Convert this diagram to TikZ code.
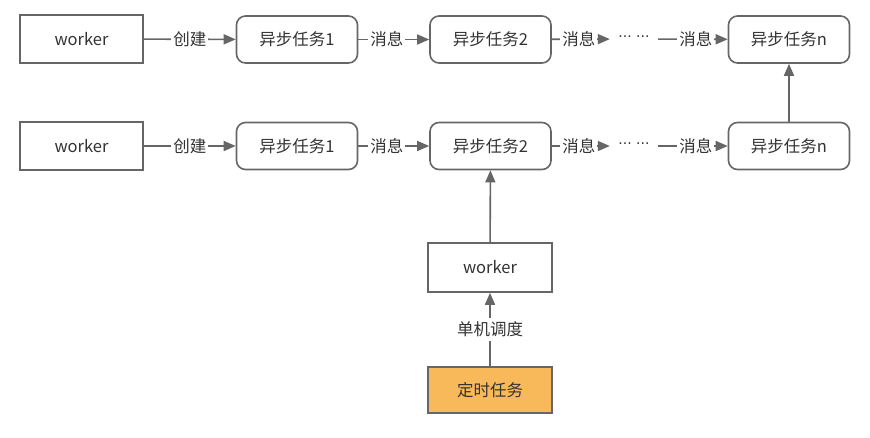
\documentclass[tikz,border=0pt]{standalone}
\usepackage{fontspec}
\setmainfont{Noto Sans CJK SC}
\newfontfamily\dejavu{DejaVu Sans}
\usetikzlibrary{arrows.meta}
\definecolor{edgegray}{HTML}{666666}
\definecolor{txt}{HTML}{333333}
\definecolor{timerfill}{HTML}{F7B95A}
\begin{document}
\begin{tikzpicture}[x=1pt,y=-1pt,
  every node/.style={font=\fontsize{16.5}{19}\selectfont, text=txt},
  sqbox/.style={draw=edgegray, line width=1.6pt, fill=white, minimum width=123pt, minimum height=48pt, inner sep=0pt},
  rbox/.style={draw=edgegray, line width=1.6pt, fill=white, rounded corners=9pt, minimum width=121pt, minimum height=47pt, inner sep=0pt},
  conn/.style={draw=edgegray, line width=1.6pt, -{Triangle[length=12pt,width=10pt]}},
  lbl/.style={fill=white, inner sep=2pt},
  dots/.style={inner sep=0pt, minimum width=48pt, minimum height=12pt, font=\dejavu\fontsize{14}{16}\selectfont}
]
\useasboundingbox (0,0) rectangle (870,437);
\fill[white] (0,0) rectangle (870,437);

% row 1
\node[sqbox] (w1) at (81.5,39) {worker};
\node[rbox] (a1) at (297,39.5) {异步任务1};
\node[rbox] (b1) at (490.5,39.5) {异步任务2};
\node[dots] (d1) at (634,39) {··· ···};
\node[rbox] (n1) at (789,39.5) {异步任务n};

% row 2
\node[sqbox] (w2) at (81.5,146) {worker};
\node[rbox] (a2) at (297,146) {异步任务1};
\node[rbox] (b2) at (490.5,146) {异步任务2};
\node[dots] (d2) at (634,146) {··· ···};
\node[rbox] (n2) at (789,146) {异步任务n};

% bottom
\node[sqbox, minimum width=124pt, minimum height=49pt] (w3) at (490,267.5) {worker};
\node[sqbox, fill=timerfill, minimum width=124pt, minimum height=46pt] (t) at (490,390) {定时任务};

% connectors row 1
\draw[conn] (w1) -- node[lbl] {创建} (a1);
\draw[conn] (a1) -- node[lbl, xshift=-7pt] {消息} (b1);
\draw[conn] (b1) -- node[lbl, xshift=-2pt] {消息} (d1);
\draw[conn] (d1) -- node[lbl, xshift=3pt] {消息} (n1);

% connectors row 2
\draw[conn] (w2) -- node[lbl] {创建} (a2);
\draw[conn] (a2) -- node[lbl, xshift=-7pt] {消息} (b2);
\draw[conn] (b2) -- node[lbl, xshift=-2pt] {消息} (d2);
\draw[conn] (d2) -- node[lbl, xshift=3pt] {消息} (n2);

% vertical
\draw[conn] (n2) -- (n1);
\draw[conn] (w3) -- (b2);
\draw[conn] (t) -- node[lbl, inner sep=4pt] {单机调度} (w3);
\end{tikzpicture}
\end{document}
